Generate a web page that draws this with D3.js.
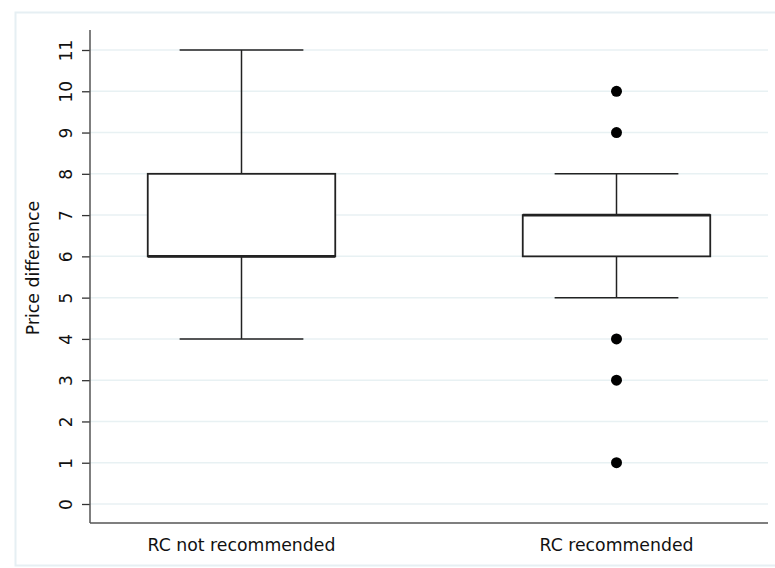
<!DOCTYPE html>
<html>
<head>
<meta charset="utf-8">
<script src="https://cdn.jsdelivr.net/npm/d3@7"></script>
<style>
  body { margin: 0; background: #fff; }
  text { font-family: "DejaVu Sans", Verdana, sans-serif; fill: #111; }
</style>
</head>
<body>
<script>
// groups and five-number summaries
var groups = ["RC not recommended", "RC recommended"];
var lowWhisker = [4, 5];
var q1 = [6, 6];
var median = [6, 7];
var q3 = [8, 7];
var highWhisker = [11, 8];
var outliers = [[], [10, 9, 4, 3, 1]];
var yTicks = [0, 1, 2, 3, 4, 5, 6, 7, 8, 9, 10, 11];

var W = 775, H = 568;
var mLeft = 90, mRight = 768, mTop = 30, mBottom = 523;

var svg = d3.select("body").append("svg").attr("width", W).attr("height", H);

// outer frame
svg.append("rect").attr("x", 15.5).attr("y", 12.5).attr("width", 780).attr("height", 553)
  .attr("fill", "none").attr("stroke", "#e6eff3").attr("stroke-width", 2);

var y = d3.scaleLinear().domain([0, 11]).range([504, 50]);
var x = d3.scalePoint().domain(groups).range([mLeft, mRight]).padding(0.404);
var step = x.step();
var boxW = step * 0.5, capW = step * 0.33;

// gridlines
svg.append("g").selectAll("line").data(yTicks).join("line")
  .attr("x1", mLeft).attr("x2", mRight)
  .attr("y1", function(d) { return y(d); }).attr("y2", function(d) { return y(d); })
  .attr("stroke", "#e8f1f3").attr("stroke-width", 1.5);

// y axis
var yAxis = svg.append("g").attr("transform", "translate(" + mLeft + ",0)")
  .call(d3.axisLeft(y).tickValues(yTicks).tickSize(8));
yAxis.select(".domain").remove();
yAxis.selectAll(".tick line").attr("stroke", "#333").attr("stroke-width", 1.3);
yAxis.selectAll(".tick text")
  .attr("font-size", 17)
  .attr("x", 0).attr("y", -24)
  .attr("text-anchor", "middle")
  .attr("dy", "0.35em")
  .attr("transform", "rotate(-90)");
svg.append("line").attr("x1", mLeft).attr("x2", mLeft).attr("y1", mTop).attr("y2", mBottom)
  .attr("stroke", "#555").attr("stroke-width", 1.5);

// x axis line
svg.append("line").attr("x1", mLeft).attr("x2", mRight).attr("y1", mBottom).attr("y2", mBottom)
  .attr("stroke", "#555").attr("stroke-width", 1.5);

svg.append("g").selectAll("text").data(groups).join("text")
  .attr("x", function(d) { return x(d); }).attr("y", 551)
  .attr("text-anchor", "middle").attr("font-size", 17.3)
  .text(function(d) { return d; });

svg.append("text")
  .attr("transform", "translate(39,268) rotate(-90)")
  .attr("text-anchor", "middle").attr("font-size", 17.3)
  .text("Price difference");

// boxes
var stroke = "#222";
groups.forEach(function(g, i) {
  var cx = x(g);
  var b = svg.append("g");
  b.append("line").attr("x1", cx).attr("x2", cx).attr("y1", y(q3[i])).attr("y2", y(highWhisker[i]))
    .attr("stroke", stroke).attr("stroke-width", 1.5);
  b.append("line").attr("x1", cx).attr("x2", cx).attr("y1", y(q1[i])).attr("y2", y(lowWhisker[i]))
    .attr("stroke", stroke).attr("stroke-width", 1.5);
  [highWhisker[i], lowWhisker[i]].forEach(function(v) {
    b.append("line").attr("x1", cx - capW / 2).attr("x2", cx + capW / 2)
      .attr("y1", y(v)).attr("y2", y(v)).attr("stroke", stroke).attr("stroke-width", 1.5);
  });
  b.append("rect").attr("x", cx - boxW / 2).attr("width", boxW)
    .attr("y", y(q3[i])).attr("height", y(q1[i]) - y(q3[i]))
    .attr("fill", "#fff").attr("stroke", stroke).attr("stroke-width", 1.8);
  b.append("line").attr("x1", cx - boxW / 2).attr("x2", cx + boxW / 2)
    .attr("y1", y(median[i])).attr("y2", y(median[i]))
    .attr("stroke", stroke).attr("stroke-width", 2.6);
  b.selectAll("circle").data(outliers[i]).join("circle")
    .attr("cx", cx).attr("cy", function(d) { return y(d); }).attr("r", 5.5)
    .attr("fill", "#000");
});
</script>
</body>
</html>
